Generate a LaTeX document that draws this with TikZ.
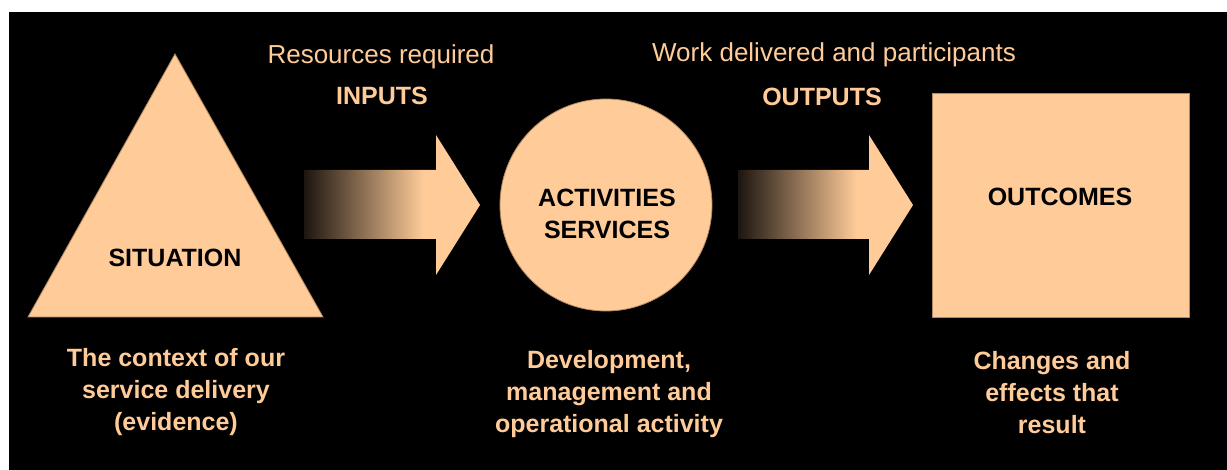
\documentclass[tikz,border=0pt]{standalone}
\usepackage{fontspec}
\setmainfont{Liberation Sans}

\definecolor{peach}{HTML}{FFCC99}
\definecolor{arrowdark}{HTML}{1C1510}
\definecolor{rimbrown}{HTML}{B38A60}

% shaft goes from almost black into the fill colour
\pgfdeclarehorizontalshading{arrowfade}{100bp}{color(0bp)=(arrowdark); color(25bp)=(arrowdark); color(59bp)=(peach); color(100bp)=(peach)}

\tikzset{
  shapefill/.style={fill=peach, draw=rimbrown, line width=0.8pt},
  shapetext/.style={font=\bfseries\fontsize{25}{32}\selectfont, align=center, text=black},
  toplabel/.style={font=\fontsize{26}{30}\selectfont, text=peach},
  headlabel/.style={font=\bfseries\fontsize{25}{30}\selectfont, text=peach},
  footlabel/.style={font=\bfseries\fontsize{25}{32}\selectfont, align=center, text=peach},
}

% block arrow, #1 = left end of the shaft, #2 = shaft length
\newcommand{\blockarrow}[2]{%
  \shade[shading=arrowfade] (#1,170) -- ++(#2,0) -- ++(0,-35) -- ++(44,70)
    -- ++(-44,70) -- ++(0,-36) -- ++(-#2,0) -- cycle;}

\begin{document}
\begin{tikzpicture}[x=1pt, y=-1pt]

  \useasboundingbox (0,0) rectangle (1227,470);
  \fill[white] (0,0) rectangle (1227,470);
  \fill[black] (9,12) rectangle (1227,470);

  % situation
  \draw[shapefill] (175,54) -- (323,317) -- (28,317) -- cycle;
  \node[shapetext] (situation) at (175,258) {SITUATION};

  % activities
  \node[circle, shapefill, minimum size=212pt] (activities) at (606,205) {};
  \node[shapetext] (activitiestext) at (607,214) {ACTIVITIES\\SERVICES};

  % outcomes
  \node[rectangle, shapefill, minimum width=257pt, minimum height=224pt] (outcomes) at (1060.5,205) {};
  \node[shapetext] (outcomestext) at (1060,197) {OUTCOMES};

  % arrows
  \blockarrow{304}{132}
  \blockarrow{738}{131}

  % labels over the arrows
  \node[toplabel] (resources) at (381,57) {Resources required};
  \node[headlabel] (inputs) at (382,96) {INPUTS};
  \node[toplabel] (work) at (834,55) {Work delivered and participants};
  \node[headlabel] (outputs) at (822,97) {OUTPUTS};

  % labels under the shapes
  \node[footlabel] (context) at (176,392) {The context of our\\service delivery\\(evidence)};
  \node[footlabel] (development) at (609,394) {Development,\\management and\\operational activity};
  \node[footlabel] (changes) at (1052,393) {Changes and\\effects that\\result};

\end{tikzpicture}
\end{document}
